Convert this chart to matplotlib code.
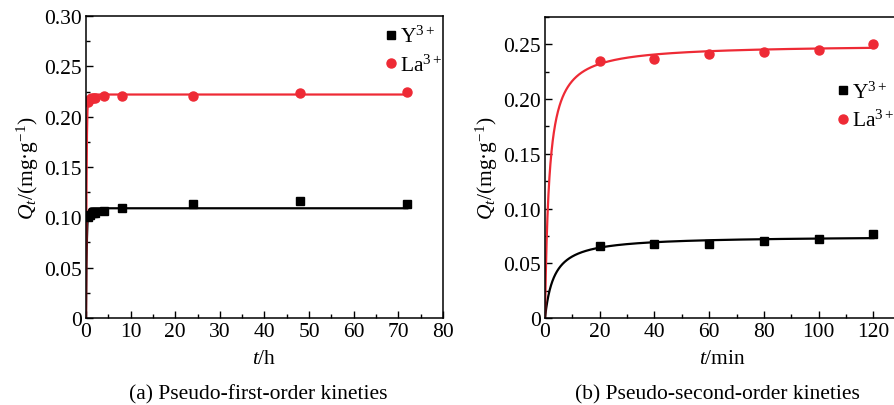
import numpy as np
import matplotlib
matplotlib.use("Agg")
import matplotlib.pyplot as plt
from matplotlib.ticker import MultipleLocator, FuncFormatter

plt.rcParams['font.family'] = ['Liberation Serif', 'DejaVu Serif']
plt.rcParams['mathtext.fontset'] = 'custom'
plt.rcParams['mathtext.rm'] = 'Liberation Serif'
plt.rcParams['mathtext.it'] = 'Liberation Serif:italic'

# (a) pseudo-first-order, t in h
t_a = [0.5, 1, 1.5, 2, 4, 8, 24, 48, 72]
y_a = [0.100, 0.102, 0.104, 0.104, 0.106, 0.109, 0.113, 0.116, 0.113]
la_a = [0.215, 0.218, 0.219, 0.219, 0.221, 0.221, 0.221, 0.224, 0.225]
# fitted parameters (qe, k1)
fit_y_a = (0.109, 6.0)
fit_la_a = (0.222, 8.0)

# (b) pseudo-second-order, t in min
t_b = [20, 40, 60, 80, 100, 120]
y_b = [0.066, 0.068, 0.068, 0.070, 0.072, 0.077]
la_b = [0.235, 0.237, 0.241, 0.243, 0.245, 0.250]
# fitted parameters (qe, k2)
fit_y_b = (0.075, 4.0)
fit_la_b = (0.250, 2.6)

red = '#ee2a35'
fs = 15.5


def first_order(t, p):
    qe, k = p
    return qe * (1 - np.exp(-k * t))


def second_order(t, p):
    qe, k = p
    return qe * qe * k * t / (1 + qe * k * t)


def fmt(v, pos):
    return '0' if abs(v) < 1e-9 else f'{v:.2f}'


def style(ax, xmaj, xmin, ymaj, ymin):
    ax.xaxis.set_major_locator(MultipleLocator(xmaj))
    ax.xaxis.set_minor_locator(MultipleLocator(xmin))
    ax.yaxis.set_major_locator(MultipleLocator(ymaj))
    ax.yaxis.set_minor_locator(MultipleLocator(ymin))
    ax.yaxis.set_major_formatter(FuncFormatter(fmt))
    ax.tick_params(which='both', direction='in', top=False, right=False,
                   labelsize=fs, width=1.0, pad=3)
    ax.tick_params(which='major', length=5)
    ax.tick_params(which='minor', length=3)
    for s in ax.spines.values():
        s.set_linewidth(1.1)
    ax.set_ylabel(r'$Q_t$/(mg·g$^{-1}$)', fontsize=fs, labelpad=2)


def legend(ax, x, y):
    ax.legend(loc='upper left', bbox_to_anchor=(x, y), frameon=False,
              fontsize=fs, handletextpad=0.0, handlelength=0.8,
              borderaxespad=0.0, borderpad=0.0, labelspacing=0.35)


fig = plt.figure(figsize=(8.94, 4.06), dpi=100)

ax1 = fig.add_axes([0.0962, 0.2143, 0.3993, 0.7438])
tt = np.linspace(0, 72, 2000)
ax1.plot(tt, first_order(tt, fit_y_a), color='black', lw=1.6)
ax1.plot(tt, first_order(tt, fit_la_a), color=red, lw=1.6)
ax1.plot(t_a, y_a, 's', color='black', ms=6, label='Y$^{3+}$')
ax1.plot(t_a, la_a, 'o', color=red, ms=6.5, label='La$^{3+}$')
ax1.set_xlim(0, 80)
ax1.set_ylim(0, 0.30)
style(ax1, 10, 5, 0.05, 0.025)
ax1.set_xlabel(r'$t$/h', fontsize=fs, labelpad=6)
legend(ax1, 0.83, 0.967)
fig.text(0.289, 0.015, '(a) Pseudo-first-order kineties', ha='center',
         fontsize=fs)

ax2 = fig.add_axes([0.6096, 0.2143, 0.398, 0.7414])
tt2 = np.linspace(0, 120, 2000)
ax2.plot(tt2, second_order(tt2, fit_y_b), color='black', lw=1.6)
ax2.plot(tt2, second_order(tt2, fit_la_b), color=red, lw=1.6)
ax2.plot(t_b, y_b, 's', color='black', ms=6, label='Y$^{3+}$')
ax2.plot(t_b, la_b, 'o', color=red, ms=6.5, label='La$^{3+}$')
ax2.set_xlim(0, 130)
ax2.set_ylim(0, 0.275)
style(ax2, 20, 10, 0.05, 0.025)
ax2.set_xlabel(r'$t$/min', fontsize=fs, labelpad=6)
legend(ax2, 0.814, 0.787)
fig.text(0.802, 0.015, '(b) Pseudo-second-order kineties', ha='center',
         fontsize=fs)

fig.savefig('out.png', dpi=100)
